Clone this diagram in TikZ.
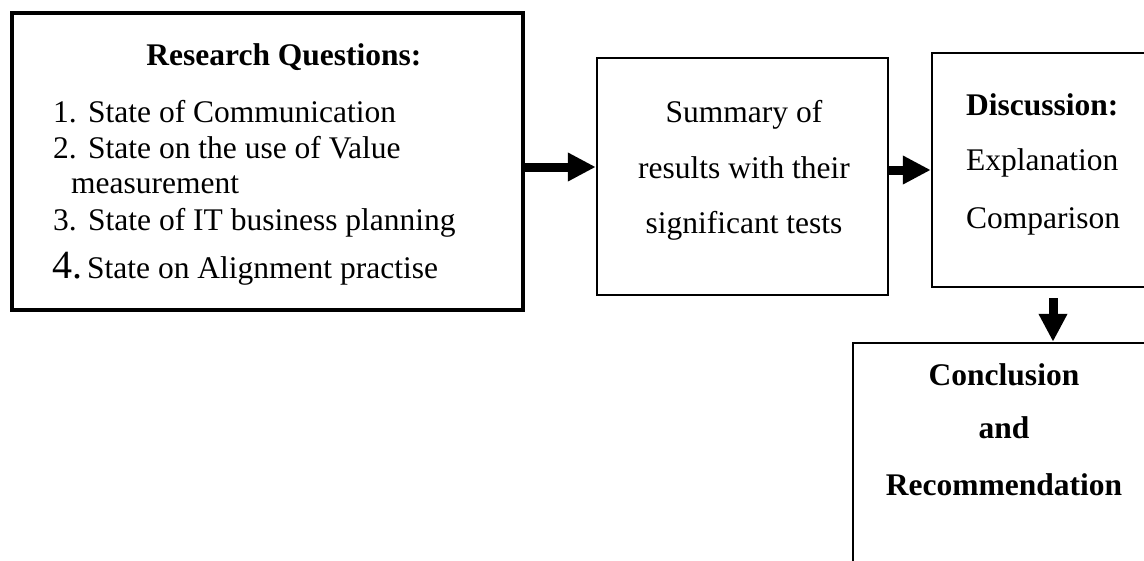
\documentclass[tikz,border=0pt]{standalone}
\usepackage{fontspec}
\setmainfont{Liberation Serif}
\usetikzlibrary{arrows.meta}

\begin{document}
\begin{tikzpicture}[x=1pt,y=-1pt,
  frame/.style={draw=black,line width=2.5pt,rectangle,inner sep=0pt},
  heavyframe/.style={frame,line width=4pt},
  txt/.style={inner sep=0pt,font=\fontsize{31.5pt}{38pt}\selectfont},
  bold/.style={txt,font=\fontsize{31.5pt}{38pt}\selectfont\bfseries},
  flow/.style={line width=9pt,-{Triangle[length=28pt,width=27pt]}}
]
\path[use as bounding box,clip] (0,0) rectangle (1144,560);

% boxes
\node[heavyframe,minimum width=511pt,minimum height=297pt] (rq) at (267.5,161.5) {};
\node[frame,minimum width=291pt,minimum height=237pt] (sm) at (742.5,176.5) {};
\node[frame,minimum width=228pt,minimum height=234pt] (ds) at (1046,170) {};
\node[frame,minimum width=307pt,minimum height=257pt] (cr) at (1006.5,471.5) {};

% research questions
\node[bold,anchor=base] (rqh) at (284,65) {Research Questions:};
\node[txt,anchor=base west] (q1) at (53,122) {\makebox[35pt][l]{1.}State of Communication};
\node[txt,anchor=base west] (q2) at (53,158) {\makebox[35pt][l]{2.}State on the use of Value};
\node[txt,anchor=base west] (q2b) at (71,193) {measurement};
\node[txt,anchor=base west] (q3) at (53,230) {\makebox[35pt][l]{3.}State of IT business planning};
\node[txt,anchor=base west] (q4) at (52,278) {\makebox[35pt][l]{\fontsize{40pt}{44pt}\selectfont 4.}State on Alignment practise};

% summary
\node[txt,anchor=base] (s1) at (744,122) {Summary of};
\node[txt,anchor=base] (s2) at (744,178) {results with their};
\node[txt,anchor=base] (s3) at (744,233) {significant tests};

% discussion
\node[bold,anchor=base west] (d1) at (966,115) {Discussion:};
\node[txt,anchor=base west] (d2) at (966,170) {Explanation};
\node[txt,anchor=base west] (d3) at (966,228) {Comparison};

% conclusion
\node[bold,anchor=base] (c1) at (1004,385) {Conclusion};
\node[bold,anchor=base] (c2) at (1004,438) {and};
\node[bold,anchor=base] (c3) at (1004,495) {Recommendation};

% connectors
\coordinate (lvl1) at (0,167);
\draw[flow] (rq.east |- lvl1) -- (sm.west |- lvl1);
\draw[flow] (sm.east |- ds.west) -- (ds.west);
\coordinate (a3) at (1053,298);
\draw[flow] (a3) -- (a3 |- cr.north);
\end{tikzpicture}
\end{document}
